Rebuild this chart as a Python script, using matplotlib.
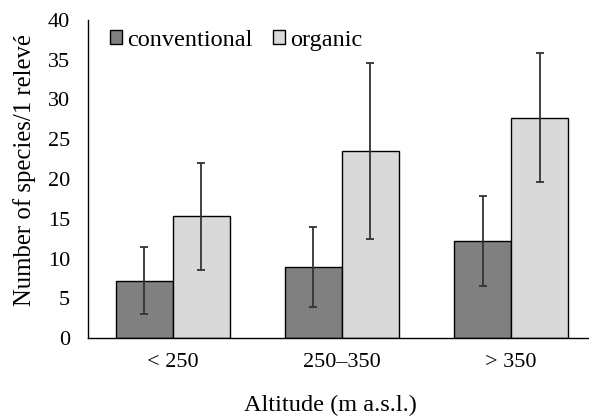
import matplotlib
matplotlib.use("Agg")
import matplotlib.pyplot as plt
import numpy as np

categories = ["< 250", "250\u2013350", "> 350"]
conventional = [7.2, 8.9, 12.2]
conventional_err = [4.2, 5.0, 5.6]
organic = [15.3, 23.5, 27.7]
organic_err = [6.7, 11.1, 8.1]

plt.rcParams['font.family'] = ['Liberation Serif', 'DejaVu Serif']

fig = plt.figure(figsize=(5.89, 4.17), dpi=100)
W, H = 589, 417
left, right, bottom, top = 88, 595.8, 338, 20
ax = fig.add_axes([left / W, 1 - bottom / H, (right - left) / W, (bottom - top) / H])

x = np.arange(len(categories))
w = 0.337
err_kw = dict(ecolor="#333333", elinewidth=1.3, capsize=3.2, capthick=1.3)
ax.bar(x - w / 2, conventional, w, yerr=conventional_err, color="#808080",
       edgecolor="black", linewidth=1.0, label="conventional", error_kw=err_kw)
ax.bar(x + w / 2, organic, w, yerr=organic_err, color="#d9d9d9",
       edgecolor="black", linewidth=1.0, label="organic", error_kw=err_kw)

ax.set_xlim(-0.5, 2.5)
ax.set_ylim(0, 40)
ax.set_yticks(np.arange(0, 41, 5))
ax.set_xticks(x)
ax.set_xticklabels(categories)
ax.tick_params(axis="both", labelsize=16, length=0)
ax.tick_params(axis="y", pad=13)
ax.tick_params(axis="x", pad=11)
for s in ["top", "right"]:
    ax.spines[s].set_visible(False)
for s in ["left", "bottom"]:
    ax.spines[s].set_linewidth(1.0)
    ax.spines[s].set_color("black")

ax.set_ylabel("Number of species/1 relev\u00e9", fontsize=17.8)
ax.yaxis.set_label_coords((36 - left) / (right - left), (bottom - 170) / (bottom - top))
ax.set_xlabel("Altitude (m a.s.l.)", fontsize=17.5)
ax.xaxis.set_label_coords((330 - left) / (right - left), -(395 - bottom) / (bottom - top))

leg = ax.legend(loc="upper left", bbox_to_anchor=((110 - left) / (right - left), (bottom - 30) / (bottom - top)),
                ncol=2, frameon=False, fontsize=17.5, handlelength=0.5, handleheight=0.5,
                handletextpad=0.2, columnspacing=0.85, borderaxespad=0, borderpad=0)

fig.savefig("out.png", dpi=100)
